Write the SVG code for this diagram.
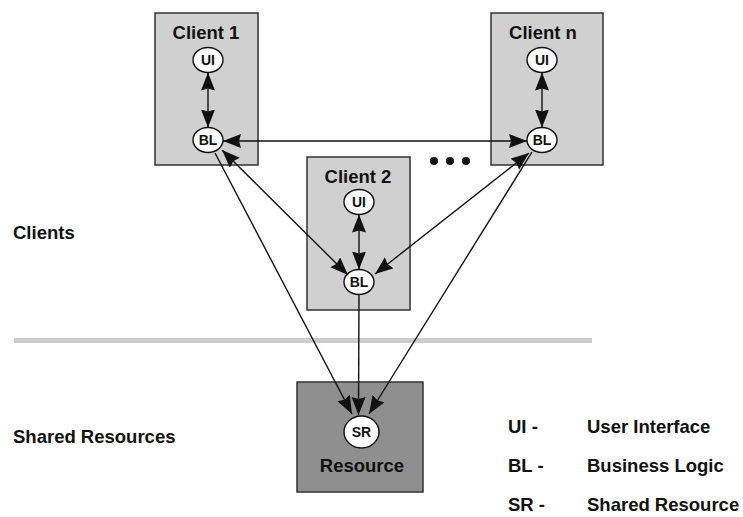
<svg xmlns="http://www.w3.org/2000/svg" width="743" height="517" viewBox="0 0 743 517">
<style>
text{font-family:"Liberation Sans",Arial,Helvetica,sans-serif;font-weight:bold;fill:#111}
.lbl{font-size:18.5px}
.box{fill:#d0d0d0;stroke:#333;stroke-width:1.5}
.res{fill:#8f8f8f;stroke:#333;stroke-width:1.5}
.node{fill:#fff;stroke:#111;stroke-width:1.4}
.nt{font-size:14px;text-anchor:middle}
.ct{font-size:18.5px;text-anchor:middle}
.c{fill:none;stroke:#111;stroke-width:1.4}
.bi{marker-start:url(#ah);marker-end:url(#ah)}
.one{marker-end:url(#ah)}
</style>
<defs>
<marker id="ah" markerUnits="userSpaceOnUse" markerWidth="19" markerHeight="15" refX="18" refY="7" orient="auto-start-reverse">
<path d="M0,0 L18,7 L0,14 L2,7 z" fill="#111"/>
</marker>
</defs>
<rect x="0" y="0" width="743" height="517" fill="#fff"/>
<line x1="14" y1="340.5" x2="592" y2="340.5" stroke="#cccccc" stroke-width="5"/>
<text class="lbl" x="13" y="239">Clients</text>
<text class="lbl" x="13" y="443">Shared Resources</text>
<g id="client1">
<rect class="box" x="155" y="13" width="103" height="152"/>
<text class="ct" x="206" y="39">Client 1</text>
<g id="ui1"><ellipse class="node" cx="208" cy="60" rx="15" ry="12.5"/><text class="nt" x="208" y="65">UI</text></g>
<g id="bl1"><ellipse class="node" cx="208" cy="140" rx="15" ry="12.5"/><text class="nt" x="208" y="145">BL</text></g>
</g>
<g id="clientn">
<rect class="box" x="491" y="13" width="112" height="152"/>
<text class="ct" x="543" y="39">Client n</text>
<g id="uin"><ellipse class="node" cx="542" cy="60" rx="15" ry="12.5"/><text class="nt" x="542" y="65">UI</text></g>
<g id="bln"><ellipse class="node" cx="542" cy="140" rx="15" ry="12.5"/><text class="nt" x="542" y="145">BL</text></g>
</g>
<g id="client2">
<rect class="box" x="307" y="157" width="103" height="153"/>
<text class="ct" x="358" y="183">Client 2</text>
<g id="ui2"><ellipse class="node" cx="359" cy="202" rx="15" ry="12.5"/><text class="nt" x="359" y="207">UI</text></g>
<g id="bl2"><ellipse class="node" cx="359" cy="282" rx="15" ry="12.5"/><text class="nt" x="359" y="287">BL</text></g>
</g>
<g id="dots" fill="#111">
<circle cx="434" cy="161" r="4"/><circle cx="450" cy="161" r="4"/><circle cx="466" cy="161" r="4"/>
</g>
<g id="resource">
<rect class="res" x="297" y="382" width="126" height="110"/>
<g id="sr"><ellipse class="node" cx="361.5" cy="432" rx="17.5" ry="16"/><text class="nt" x="361.5" y="437">SR</text></g>
<text class="ct" x="362" y="472">Resource</text>
</g>
<g id="connectors">
<line class="c bi" x1="208" y1="72.5" x2="208" y2="127.5"/>
<line class="c bi" x1="542" y1="72.5" x2="542" y2="127.5"/>
<line class="c bi" x1="359" y1="214.5" x2="359" y2="269.5"/>
<line class="c bi" x1="223" y1="141" x2="527" y2="141"/>
<line class="c bi" x1="222" y1="150" x2="348" y2="275"/>
<line class="c bi" x1="529" y1="153" x2="375" y2="274"/>
<line class="c one" x1="215" y1="153" x2="352" y2="414"/>
<line class="c one" x1="359" y1="295" x2="358.5" y2="415"/>
<line class="c one" x1="532" y1="152" x2="369" y2="414"/>
</g>
<g id="legend">
<text class="lbl" x="508" y="433">UI -</text>
<text class="lbl" x="587" y="433">User Interface</text>
<text class="lbl" x="508" y="472">BL -</text>
<text class="lbl" x="587" y="472">Business Logic</text>
<text class="lbl" x="508" y="511">SR -</text>
<text class="lbl" x="587" y="511">Shared Resource</text>
</g>
</svg>
